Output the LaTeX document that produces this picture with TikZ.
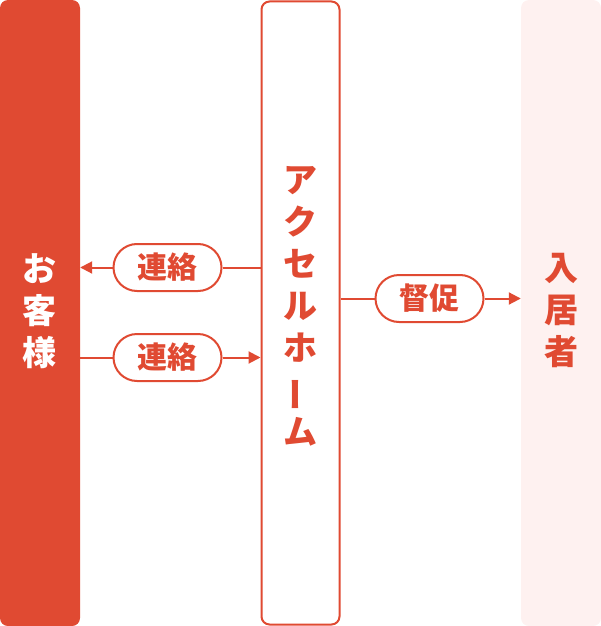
\documentclass[tikz,border=0pt]{standalone}
\usepackage{fontspec}
\usepackage{graphicx}
\newfontfamily\cjk{Noto Sans CJK JP}
\usetikzlibrary{arrows.meta}
\definecolor{acred}{HTML}{E04A32}
\definecolor{acpink}{HTML}{FEF1F0}
\tikzset{
  bar/.style={minimum width=80pt, minimum height=626pt, rounded corners=8pt, inner sep=0pt, draw=none},
  coltext/.style={align=center, inner sep=0pt, font=\cjk\bfseries\fontsize{34}{42}\selectfont},
  pill/.style={draw=acred, line width=2pt, fill=white, rounded corners=23.5pt,
    minimum width=108pt, minimum height=47pt, inner sep=0pt, text=acred,
    font=\cjk\bfseries\fontsize{30}{30}\selectfont},
  link/.style={draw=acred, line width=2pt},
  arr/.style={link, -{Triangle[length=12pt, width=12pt]}}
}
\begin{document}
\begin{tikzpicture}[x=1pt,y=-1pt]
\useasboundingbox (0,0) rectangle (601,626);
% side bars
\node[bar, fill=acred] (cust) at (40,313) {};
\node[bar, fill=acpink] (res) at (561,313) {};
\node[draw=acred, line width=2pt, fill=white, rounded corners=8pt,
      minimum width=78pt, minimum height=623pt, inner sep=0pt] (accel) at (300.5,313) {};
% column texts
\node[coltext, text=white] (custt) at (40,311) {お\\客\\様};
\node[coltext, text=acred] (rest) at (561,310) {入\\居\\者};
\node[coltext, text=acred] (accelt) at (300,306) {ア\\ク\\セ\\ル\\ホ\\\rotatebox[origin=c]{90}{ー}\\ム};
% pills
\node[pill] (p1) at (167.5,267.5) {連絡};
\node[pill] (p2) at (167.5,357.5) {連絡};
\node[pill] (p3) at (429.5,298.5) {督促};
% connectors
\draw[link] (accel.west |- p1.east) -- (p1.east);
\draw[arr] (p1.west) -- (cust.east |- p1.west);
\draw[link] (cust.east |- p2.west) -- (p2.west);
\draw[arr] (p2.east) -- (accel.west |- p2.east);
\draw[link] (accel.east |- p3.west) -- (p3.west);
\draw[arr] (p3.east) -- (res.west |- p3.east);
\end{tikzpicture}
\end{document}
